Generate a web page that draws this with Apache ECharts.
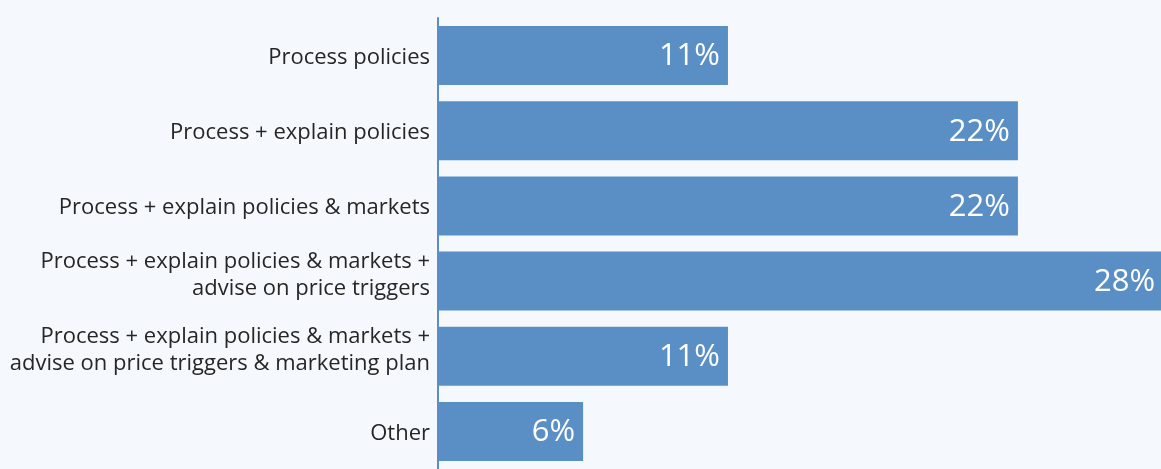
<!DOCTYPE html>
<html><head><meta charset="utf-8">
<script src="https://cdn.jsdelivr.net/npm/echarts@6/dist/echarts.min.js"></script>
<style>html,body{margin:0;padding:0;background:#f5f9fd;}#c{width:1161px;height:469px;}</style>
</head><body><div id="c"></div>
<script>
const categories = [
  "Process policies",
  "Process + explain policies",
  "Process + explain policies & markets",
  "Process + explain policies & markets +\nadvise on price triggers",
  "Process + explain policies & markets +\nadvise on price triggers & marketing plan",
  "Other"
];
const values = [11.11, 22.22, 22.22, 27.78, 11.11, 5.56];
const valueLabels = ["11%", "22%", "22%", "28%", "11%", "6%"];

const chart = echarts.init(document.getElementById('c'), null, {renderer: 'canvas'});
chart.setOption({
  backgroundColor: '#f5f9fd',
  animation: false,
  grid: {left: 438, top: 18, width: 783, height: 451, containLabel: false, outerBoundsMode: 'none'},
  xAxis: {type: 'value', min: 0, max: 30, show: false},
  yAxis: {
    type: 'category', data: categories, inverse: true,
    axisLine: {show: true, lineStyle: {color: '#5b8ec4', width: 2}},
    axisTick: {show: false},
    axisLabel: {
      margin: 8, color: '#262626', fontFamily: 'Open Sans', fontSize: 22, lineHeight: 27,
      align: 'right', padding: [4, 0, 0, 0],
      formatter: v => {
        const lines = v.split('\n');
        if (lines.length === 1) return '{m|' + v + '}';
        return lines.map(l => '{m|' + l + '}').join('\n') + '\n{g| }';
      },
      rich: {
        m: {color: '#262626', fontFamily: 'Open Sans', fontSize: 22, lineHeight: 27, align: 'right'},
        g: {fontSize: 1, lineHeight: 16}
      }
    }
  },
  series: [{
    type: 'bar', data: values, barWidth: 59,
    itemStyle: {color: '#5a8fc5'},
    label: {
      show: true, position: 'insideRight', distance: 8, offset: [0, 1],
      color: '#fff', fontFamily: 'Open Sans', fontWeight: 400, fontSize: 31,
      formatter: p => valueLabels[p.dataIndex]
    }
  }]
});
</script></body></html>
